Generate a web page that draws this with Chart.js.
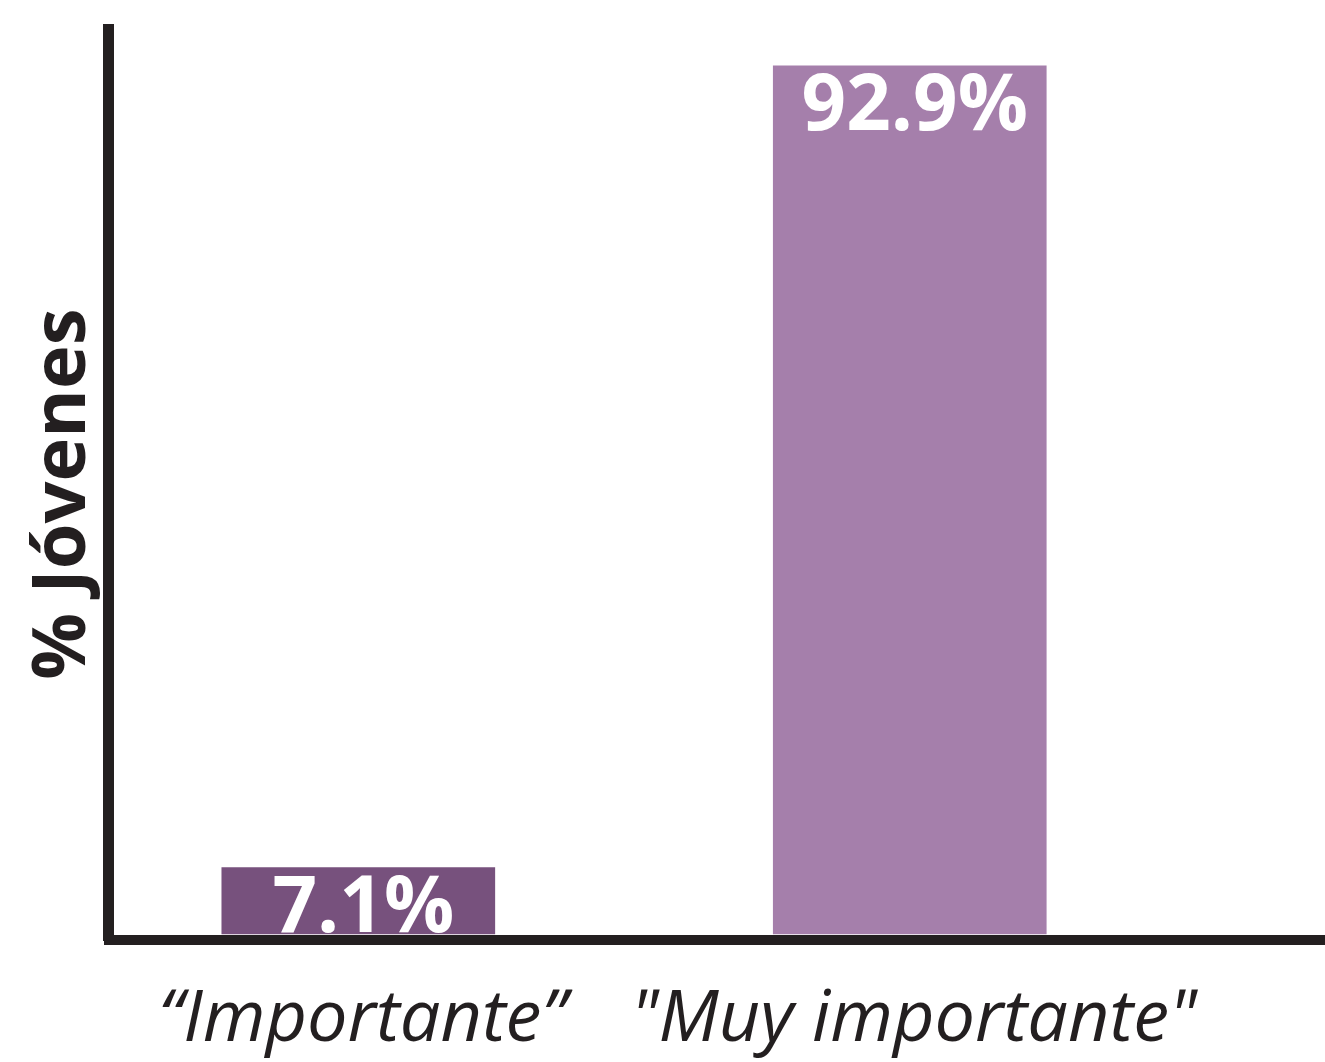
<!DOCTYPE html>
<html lang="es">
<head>
<meta charset="utf-8">
<title>% Jóvenes</title>
<script src="https://cdn.jsdelivr.net/npm/chart.js@4/dist/chart.umd.min.js"></script>
<style>
  html, body { margin: 0; padding: 0; background: #fff; }
  .grafico-box { width: 1325px; height: 1062px; position: relative; }
</style>
</head>
<body>
<div class="grafico-box">
  <canvas id="jovenesChart"></canvas>
</div>
<script>
// —————— DATOS ——————
const categorias = ['“Importante”', '"Muy importante"'];
const porcentajes = [7.1, 92.9];
const etiquetas = ['7.1%', '92.9%'];
const colores = ['#77517d', '#a57fab'];
const tituloY = '% Jóvenes ';

const colorEje = '#231f20';

// Plugin para escribir el porcentaje dentro de cada barra
const etiquetasBarras = {
  id: 'etiquetasBarras',
  afterDatasetsDraw(chart) {
    const ctx = chart.ctx;
    const meta = chart.getDatasetMeta(0);
    ctx.save();
    ctx.fillStyle = '#ffffff';
    ctx.font = 'bold 78px "Open Sans"';
    ctx.textAlign = 'center';
    ctx.textBaseline = 'alphabetic';
    meta.data.forEach((barra, i) => {
      ctx.fillText(etiquetas[i], barra.x + 5, barra.y + 64);
    });
    ctx.restore();
  }
};

const ctx = document.getElementById('jovenesChart').getContext('2d');

new Chart(ctx, {
  type: 'bar',
  data: {
    datasets: [{
      label: tituloY,
      data: porcentajes.map((v, i) => ({ x: i + 1, y: v })),
      backgroundColor: colores,
      borderWidth: 0,
      barThickness: 273
    }]
  },
  options: {
    responsive: true,
    maintainAspectRatio: false,
    animation: false,
    layout: { padding: { top: 29, left: 0, right: 0, bottom: 0 } },
    plugins: {
      legend: { display: false },
      tooltip: { enabled: false }
    },
    scales: {
      x: {
        type: 'linear',
        offset: false,
        min: 0.547,
        max: 2.753,
        z: 1,
        grid: { display: false, drawTicks: false, offset: false },
        border: { display: true, color: colorEje, width: 10 },
        afterBuildTicks(scale) {
          scale.ticks = categorias.map((c, i) => ({ value: i + 1 }));
        },
        afterFit(scale) {
          scale.height = 122;
        },
        ticks: {
          color: '#231f20',
          padding: 37,
          labelOffset: 4,
          maxRotation: 0,
          autoSkip: false,
          font: { family: '"Open Sans"', style: 'italic', size: 72 },
          callback: (valor) => categorias[valor - 1] || ''
        }
      },
      y: {
        min: -0.65,
        max: 96.85,
        grid: { display: false, drawTicks: false },
        border: { display: true, color: colorEje, width: 11 },
        ticks: { display: false },
        afterFit(scale) {
          scale.width = 108.5;
        },
        title: {
          display: true,
          text: tituloY,
          color: '#231f20',
          font: { family: '"Open Sans"', weight: 'bold', size: 74 },
          padding: { top: 20, bottom: 0 }
        }
      }
    }
  },
  plugins: [etiquetasBarras]
});
</script>
</body>
</html>
